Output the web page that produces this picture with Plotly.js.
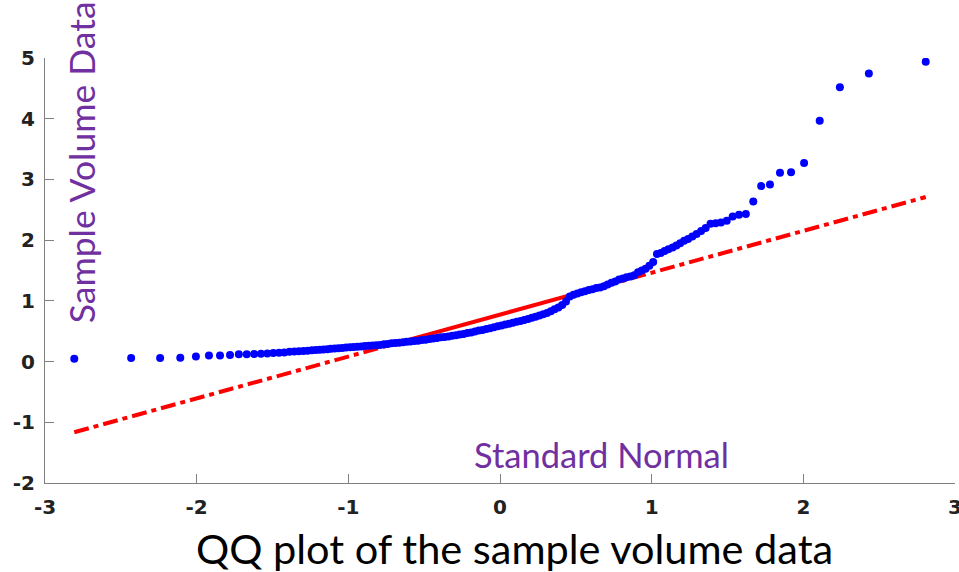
<!DOCTYPE html>
<html>
<head>
<meta charset="utf-8">
<script src="https://cdn.plot.ly/plotly-3.0.1.min.js"></script>
<style>html,body{margin:0;padding:0;background:#fff;}#chart{width:959px;height:572px;}</style>
</head>
<body>
<div id="chart"></div>
<script>
// Theoretical standard-normal quantiles (x) and sample volume data (y)
var sampleX = [
  -2.807,-2.432,-2.241,-2.108,-2.005,-1.919,-1.846,-1.780,-1.722,-1.670,
  -1.621,-1.576,-1.534,-1.495,-1.457,-1.422,-1.388,-1.356,-1.326,-1.296,
  -1.268,-1.240,-1.214,-1.188,-1.163,-1.138,
  -1.115,-1.09,-1.065,-1.04,-1.015,-0.99,-0.965,-0.94,-0.915,-0.89,
  -0.865,-0.84,-0.815,-0.79,-0.765,-0.74,-0.715,-0.69,-0.665,-0.64,
  -0.615,-0.59,-0.565,-0.54,-0.515,-0.49,-0.465,-0.44,-0.415,-0.39,
  -0.365,-0.34,-0.315,-0.29,-0.265,-0.24,-0.215,-0.19,-0.165,-0.14,
  -0.115,-0.09,-0.065,-0.04,-0.015,0.01,0.035,0.06,0.085,0.11,
  0.135,0.16,0.185,0.21,0.235,0.26,0.285,0.31,0.335,0.36,
  0.385,0.41,0.435,0.46,0.485,0.51,0.535,0.56,0.585,0.61,
  0.635,0.66,0.685,0.71,0.735,0.76,0.785,0.81,0.835,0.86,
  0.885,0.91,0.935,0.96,0.985,1.01,1.035,1.06,1.085,1.11,
  1.138,1.163,1.188,1.214,1.240,1.268,1.296,1.326,1.356,1.388,
  1.422,1.457,1.495,1.534,1.576,1.621,1.670,1.722,1.780,1.846,
  1.919,2.005,2.108,2.241,2.432,2.807
];
var sampleY = [
  0.045,0.06,0.06,0.065,0.085,0.10,0.10,0.11,0.12,0.12,
  0.125,0.13,0.135,0.14,0.145,0.15,0.16,0.165,0.17,0.175,
  0.18,0.185,0.19,0.195,0.20,0.205,
  0.21,0.215,0.22,0.225,0.23,0.235,0.24,0.245,0.25,0.255,
  0.26,0.265,0.27,0.275,0.285,0.29,0.30,0.305,0.31,0.32,
  0.325,0.33,0.34,0.345,0.355,0.36,0.37,0.38,0.39,0.40,
  0.405,0.415,0.425,0.435,0.445,0.455,0.47,0.48,0.495,0.51,
  0.52,0.535,0.55,0.565,0.58,0.595,0.61,0.625,0.64,0.655,
  0.67,0.685,0.70,0.72,0.74,0.76,0.78,0.80,0.83,0.86,
  0.89,0.93,0.99,1.07,1.10,1.12,1.14,1.16,1.18,1.19,
  1.21,1.22,1.24,1.27,1.30,1.32,1.35,1.37,1.39,1.40,
  1.42,1.47,1.50,1.53,1.58,1.64,1.77,1.79,1.82,1.85,
  1.88,1.91,1.95,1.99,2.02,2.06,2.10,2.15,2.20,2.27,
  2.28,2.29,2.32,2.39,2.42,2.43,2.636,2.89,2.916,3.11,
  3.12,3.27,3.965,4.52,4.745,4.94
];
// Reference line: solid between quartiles, dash-dot extensions to the data extremes
var lineMidX = [-0.6745, 0.6745];
var lineMidY = [0.308, 1.238];
var lineLowX = [-2.807, -0.6745];
var lineLowY = [-1.164, 0.308];
var lineHighX = [0.6745, 2.807];
var lineHighY = [1.238, 2.71];
var xTicks = [-3,-2,-1,0,1,2,3];
var yTicks = [-2,-1,0,1,2,3,4,5];

var red = '#FF0000';
var dashPattern = '15px,5px,5px,5px';
var traces = [
  {x: lineLowX, y: lineLowY, mode: 'lines', line: {color: red, width: 4, dash: dashPattern}, hoverinfo: 'skip'},
  {x: lineHighX, y: lineHighY, mode: 'lines', line: {color: red, width: 4, dash: dashPattern}, hoverinfo: 'skip'},
  {x: lineMidX, y: lineMidY, mode: 'lines', line: {color: red, width: 4}, hoverinfo: 'skip'},
  {x: sampleX, y: sampleY, mode: 'markers', marker: {color: '#0000FF', size: 8}, hoverinfo: 'x+y'}
];

function boldLabels(arr) { return arr.map(function (v) { return '<b>' + v + '</b>'; }); }
var tickFont = {family: 'DejaVu Sans', size: 20, color: '#222222'};
var layout = {
  width: 959, height: 572,
  margin: {l: 45, r: 4, t: 58, b: 89, pad: 0},
  paper_bgcolor: '#ffffff', plot_bgcolor: '#ffffff',
  showlegend: false,
  xaxis: {
    range: [-3, 3], tickmode: 'array', tickvals: xTicks, ticktext: boldLabels(xTicks),
    showgrid: false, zeroline: false, showline: true, linecolor: '#808080', linewidth: 1,
    ticks: 'inside', ticklen: 9, tickcolor: '#808080', tickwidth: 1,
    tickfont: tickFont, ticklabelstandoff: 6, ticklabeloverflow: 'allow'
  },
  yaxis: {
    range: [-2, 5], tickmode: 'array', tickvals: yTicks, ticktext: boldLabels(yTicks),
    showgrid: false, zeroline: false, showline: true, linecolor: '#808080', linewidth: 1,
    ticks: 'inside', ticklen: 9, tickcolor: '#808080', tickwidth: 1,
    tickfont: tickFont, ticklabelstandoff: 5, ticklabeloverflow: 'allow'
  },
  annotations: [
    {text: 'Sample Volume Data', xref: 'paper', yref: 'paper', x: 0.0396, y: 0.755,
     xanchor: 'center', yanchor: 'middle', textangle: -90, showarrow: false,
     font: {family: 'Lato, sans-serif', size: 35.5, color: '#7030A0'}},
    {text: 'Standard Normal', xref: 'paper', yref: 'paper', x: 0.611, y: 0.066,
     xanchor: 'center', yanchor: 'middle', showarrow: false,
     font: {family: 'Lato, sans-serif', size: 34.5, color: '#7030A0'}},
    {text: 'QQ plot of the sample volume data', xref: 'paper', yref: 'paper', x: 0.5154, y: -0.153,
     xanchor: 'center', yanchor: 'middle', showarrow: false,
     font: {family: 'Lato, sans-serif', size: 41.5, color: '#000000'}}
  ]
};
Plotly.newPlot('chart', traces, layout, {displayModeBar: false, staticPlot: true});
</script>
</body>
</html>
